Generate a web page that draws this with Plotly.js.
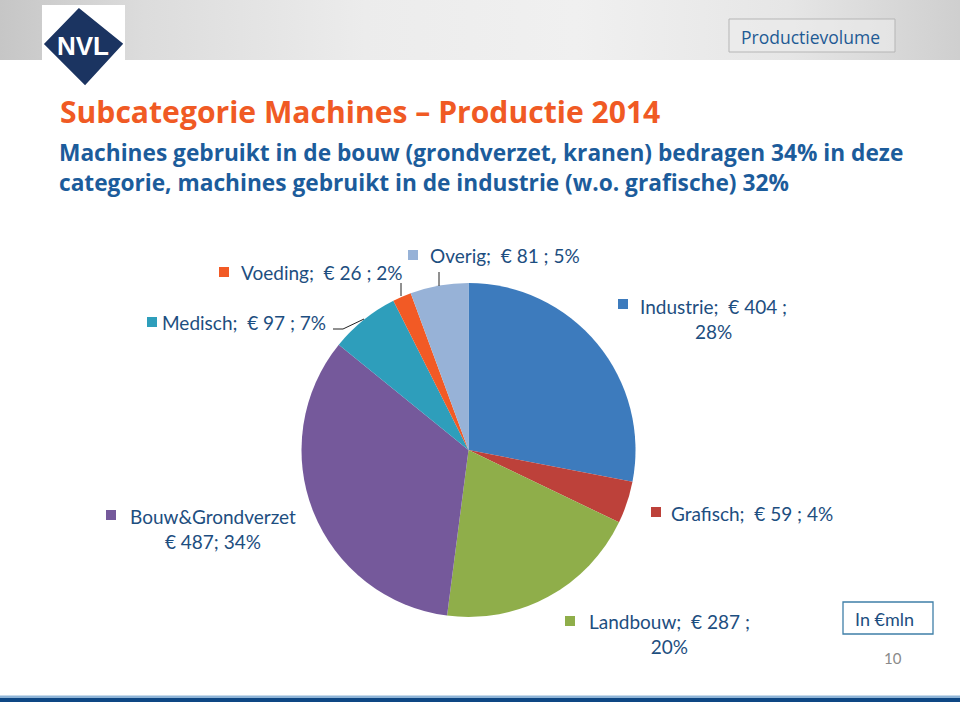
<!DOCTYPE html>
<html>
<head>
<meta charset="utf-8">
<script src="https://cdn.plot.ly/plotly-3.0.1.min.js"></script>
<style>
  html, body { margin:0; padding:0; background:#ffffff; }
  #wrap { position:relative; width:960px; height:702px; overflow:hidden; }
  #hdr { position:absolute; left:0; top:0; width:960px; height:60px;
         background: linear-gradient(to right, #c6c6c6 0%, #dcdcdc 15%, #ececec 38%, #f0f0f0 60%, #e6e6e6 82%, #cfcfcf 100%); }
  #chart { position:absolute; left:0; top:0; width:960px; height:702px; }
</style>
</head>
<body>
<div id="wrap">
  <div id="hdr"></div>
  <div id="chart"></div>
</div>
<script>
// ---- data ----
const categories = ['Industrie', 'Grafisch', 'Landbouw', 'Bouw&Grondverzet', 'Medisch', 'Voeding', 'Overig'];
const values     = [404, 59, 287, 487, 97, 26, 81];
const percents   = [28, 4, 20, 34, 7, 2, 5];
const colors     = ['#3d7bbd', '#bd413a', '#8fae4a', '#75599b', '#2e9ebb', '#f25a25', '#97b2d7'];
const labelStyle = ['wrap', 'line', 'wrap', 'bouw', 'line', 'line', 'line'];

const titleText    = 'Subcategorie Machines – Productie 2014';
const subtitle1    = 'Machines gebruikt in de bouw (grondverzet, kranen) bedragen 34% in deze';
const subtitle2    = 'categorie, machines gebruikt in de industrie (w.o. grafische) 32%';
const sectionLabel = 'Productievolume';
const unitLabel    = 'In €mln';
const pageNumber   = '10';

// ---- layout helpers (pixel coordinates via hidden axes) ----
const W = 960, H = 702;
const cx = 468.5, cy = 450, R = 167;

// label placement: [squareX, squareY, textX, textY, anchor]
const labelPos = [
  [618, 299, 713, 319, 'center'],     // Industrie
  [651, 507, 669, 513, 'left'],       // Grafisch
  [565, 616, 669, 634, 'center'],     // Landbouw
  [106, 510, 212.5, 528.5, 'center'], // Bouw
  [147, 317, 160, 322, 'left'],       // Medisch
  [219, 267, 239, 272, 'left'],       // Voeding
  [408, 250, 428, 255, 'left']        // Overig
];

function esc(s) { return s.replace(/&/g, '&amp;'); }
function labelText(i) {
  const c = esc(categories[i]);
  if (labelStyle[i] === 'wrap') return c + ';  € ' + values[i] + ' ;<br>' + percents[i] + '%';
  if (labelStyle[i] === 'bouw') return c + '<br>€ ' + values[i] + '; ' + percents[i] + '%';
  return c + ';  € ' + values[i] + ' ; ' + percents[i] + '%';
}

const labelFont = {family: 'Lato, "Open Sans", sans-serif', size: 19, color: '#1d4e80'};

const shapes = [];
const annotations = [];

// header logo
shapes.push({type:'rect', xref:'x', yref:'y', x0:42, x1:125, y0:5, y1:60, fillcolor:'#ffffff', line:{width:0}, layer:'below'});
shapes.push({type:'path', xref:'x', yref:'y', path:'M 46 44 L 79 10 L 121 44 L 85 83 Z', fillcolor:'#1b3461', line:{color:'#1b3461', width:3}, layer:'below'});
annotations.push({xref:'x', yref:'y', x:83, y:46, text:'<b>NVL</b>', showarrow:false, xanchor:'center', yanchor:'middle',
  font:{family:'"Liberation Sans Narrow", "Liberation Sans", Arial, sans-serif', size:26, color:'#ffffff'}});

// section label box
shapes.push({type:'rect', xref:'x', yref:'y', x0:729, x1:895, y0:19, y1:52, fillcolor:'rgba(236,236,236,0.6)', line:{color:'#b5b5b5', width:1}});
annotations.push({xref:'x', yref:'y', x:739, y:37, text:sectionLabel, showarrow:false, xanchor:'left', yanchor:'middle',
  font:{family:'"Open Sans", sans-serif', size:17.5, color:'#1e5a94'}});

// titles
annotations.push({xref:'x', yref:'y', x:58, y:111, text:'<b>' + titleText + '</b>', showarrow:false, xanchor:'left', yanchor:'middle',
  font:{family:'"Open Sans", sans-serif', size:30.1, color:'#f05a24'}});
annotations.push({xref:'x', yref:'y', x:57, y:152, text:'<b>' + subtitle1 + '</b>', showarrow:false, xanchor:'left', yanchor:'middle',
  font:{family:'"Open Sans", sans-serif', size:22.7, color:'#1c5c9b'}});
annotations.push({xref:'x', yref:'y', x:57, y:182, text:'<b>' + subtitle2 + '</b>', showarrow:false, xanchor:'left', yanchor:'middle',
  font:{family:'"Open Sans", sans-serif', size:22.7, color:'#1c5c9b'}});

// slice labels
for (let i = 0; i < categories.length; i++) {
  const p = labelPos[i];
  shapes.push({type:'rect', xref:'x', yref:'y', x0:p[0], x1:p[0]+10, y0:p[1], y1:p[1]+10, fillcolor:colors[i], line:{width:0}});
  annotations.push({xref:'x', yref:'y', x:p[2], y:p[3], text:labelText(i), showarrow:false,
    xanchor:p[4], yanchor:'middle', align:'center', font:labelFont});
}

// leader lines
shapes.push({type:'path', xref:'x', yref:'y', path:'M 333 329 L 343 329 L 364 319', line:{color:'#222222', width:1}});
shapes.push({type:'line', xref:'x', yref:'y', x0:401, x1:401, y0:283, y1:296, line:{color:'#222222', width:1}});
shapes.push({type:'line', xref:'x', yref:'y', x0:439, x1:439, y0:272, y1:286, line:{color:'#222222', width:1}});

// unit box + page number
shapes.push({type:'rect', xref:'x', yref:'y', x0:843, x1:933, y0:602, y1:634, fillcolor:'#ffffff', line:{color:'#3f7fa8', width:1.3}});
annotations.push({xref:'x', yref:'y', x:884, y:619, text:unitLabel, showarrow:false, xanchor:'center', yanchor:'middle',
  font:{family:'Lato, sans-serif', size:18, color:'#1d4e80'}});
annotations.push({xref:'x', yref:'y', x:893, y:658, text:pageNumber, showarrow:false, xanchor:'center', yanchor:'middle',
  font:{family:'Lato, sans-serif', size:15, color:'#8a8a8a'}});

// bottom bar
shapes.push({type:'rect', xref:'x', yref:'y', x0:0, x1:960, y0:695.5, y1:698, fillcolor:'#8fb5d8', line:{width:0}});
shapes.push({type:'rect', xref:'x', yref:'y', x0:0, x1:960, y0:698, y1:702, fillcolor:'#0e4784', line:{width:0}});

const trace = {
  type: 'pie',
  labels: categories,
  values: values,
  marker: {colors: colors, line: {width: 0}},
  sort: false,
  direction: 'clockwise',
  rotation: 0,
  textinfo: 'none',
  hoverinfo: 'skip',
  showlegend: false,
  domain: {x: [(cx - R) / W, (cx + R) / W], y: [1 - (cy + R) / H, 1 - (cy - R) / H]}
};

const layout = {
  width: W, height: H,
  margin: {l:0, r:0, t:0, b:0},
  paper_bgcolor: 'rgba(0,0,0,0)',
  plot_bgcolor: 'rgba(0,0,0,0)',
  xaxis: {range:[0, W], visible:false, fixedrange:true},
  yaxis: {range:[H, 0], visible:false, fixedrange:true},
  shapes: shapes,
  annotations: annotations,
  showlegend: false
};

Plotly.newPlot('chart', [trace], layout, {displayModeBar:false, staticPlot:true});
</script>
</body>
</html>
